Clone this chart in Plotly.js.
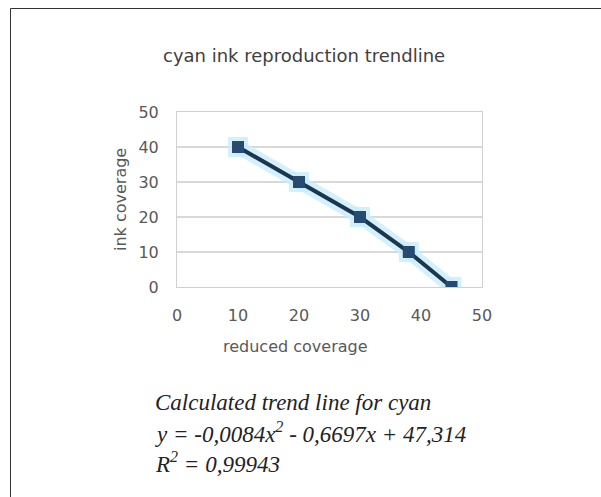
<!DOCTYPE html>
<html>
<head>
<meta charset="utf-8">
<script src="https://cdn.plot.ly/plotly-3.0.1.min.js"></script>
<style>
html,body{margin:0;padding:0;background:#fff;}
#chart{width:601px;height:497px;}
</style>
</head>
<body>
<div id="chart"></div>
<script>
// Data
const reducedCoverage = [10, 20, 30, 38, 45];
const inkCoverage = [40, 30, 20, 10, 0];
const xTicks = [0, 10, 20, 30, 40, 50];
const yTicks = [0, 10, 20, 30, 40, 50];
const chartTitle = "cyan ink reproduction trendline";
const xTitle = "reduced coverage";
const yTitle = "ink coverage";
const captionLines = [
  "Calculated trend line for cyan",
  "y = -0,0084x<sup>2</sup> - 0,6697x + 47,314",
  "R<sup>2</sup> = 0,99943"
];

// pixel geometry of the plot area
const W = 601, H = 497;
const L = 177, R = 482, T = 112, B = 287;
const fx = px => (px - L) / (R - L);
const fy = py => (B - py) / (B - T);

const glow = {
  x: reducedCoverage, y: inkCoverage, type: 'scatter', mode: 'lines+markers',
  line: {color: 'rgba(200,236,252,0.8)', width: 14},
  marker: {symbol: 'square', size: 20, color: 'rgba(200,236,252,0.8)'},
  hoverinfo: 'skip', showlegend: false
};
const main = {
  x: reducedCoverage, y: inkCoverage, type: 'scatter', mode: 'lines+markers',
  line: {color: '#1c3550', width: 4},
  marker: {symbol: 'square', size: 12, color: '#264a70'},
  showlegend: false
};

const gray = '#595959';
const sans = 'DejaVu Sans, Verdana, sans-serif';
const annotations = [
  {text: chartTitle, xref: 'paper', yref: 'paper', x: fx(304), y: fy(55),
   xanchor: 'center', yanchor: 'middle',
   showarrow: false, font: {family: sans, size: 18, color: '#404040'}},
  {text: xTitle, xref: 'paper', yref: 'paper', x: fx(295), y: fy(346),
   xanchor: 'center', yanchor: 'middle',
   showarrow: false, font: {family: sans, size: 16, color: gray}},
  {text: yTitle, xref: 'paper', yref: 'paper', x: fx(120), y: fy(200), textangle: -90,
   xanchor: 'center', yanchor: 'middle',
   showarrow: false, font: {family: sans, size: 16, color: gray}}
];
const capY = [402, 432, 462];
captionLines.forEach((t, i) => {
  annotations.push({text: '<i>' + t + '</i>', xref: 'paper', yref: 'paper',
    x: fx(153), y: fy(capY[i]), xanchor: 'left', yanchor: 'middle', showarrow: false,
    font: {family: 'Liberation Serif, Times New Roman', size: 23, color: '#222'}});
});

const layout = {
  width: W, height: H,
  margin: {l: L, r: W - R, t: T, b: H - B, pad: 0},
  paper_bgcolor: '#fff', plot_bgcolor: '#fff',
  showlegend: false,
  xaxis: {range: [0, 50], tickvals: xTicks, ticktext: xTicks.map(String),
    showgrid: false, zeroline: false, showline: true, linecolor: '#d0d0d0', linewidth: 1, mirror: true,
    ticks: '', ticklabelstandoff: 14,
    tickfont: {family: sans, size: 16, color: gray}},
  yaxis: {range: [0, 50], tickvals: yTicks, ticktext: yTicks.map(String),
    showgrid: true, gridcolor: '#d9d9d9', gridwidth: 1.5, zeroline: false,
    showline: true, linecolor: '#d0d0d0', linewidth: 1, mirror: true,
    ticks: '', ticklabelstandoff: 14,
    tickfont: {family: sans, size: 16, color: gray}},
  annotations: annotations,
  shapes: [
    {type: 'line', xref: 'paper', yref: 'paper', x0: fx(10.5), x1: fx(601), y0: fy(8.5), y1: fy(8.5),
     line: {color: '#333', width: 1}},
    {type: 'line', xref: 'paper', yref: 'paper', x0: fx(10.5), x1: fx(10.5), y0: fy(8.5), y1: fy(497),
     line: {color: '#333', width: 1}}
  ]
};

Plotly.newPlot('chart', [glow, main], layout, {staticPlot: true, displayModeBar: false});
</script>
</body>
</html>
